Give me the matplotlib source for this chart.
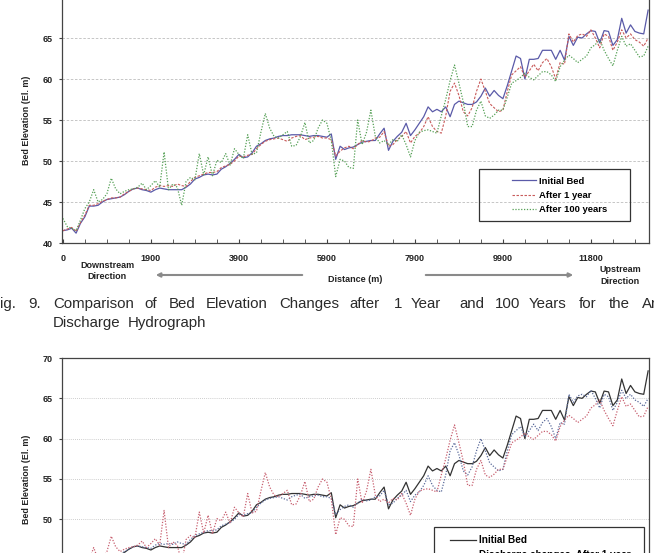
import matplotlib
matplotlib.use('Agg')
import matplotlib.pyplot as plt
from matplotlib.patches import Rectangle, FancyArrowPatch
import numpy as np

plt.rcParams['font.family'] = ['Liberation Sans', 'DejaVu Sans']

# data (bed elevation, El. m), one value per survey section
initial_bed = [41.5, 41.6, 41.8, 41.2, 42.4, 43.2, 44.5, 44.5, 44.6, 45.0,
               45.3, 45.4, 45.5, 45.6, 45.9, 46.3, 46.6, 46.7, 46.5, 46.4,
               46.2, 46.5, 46.7, 46.6, 46.5, 46.5, 46.5, 46.5, 46.8, 47.2,
               47.8, 48.0, 48.3, 48.4, 48.3, 48.4, 49.0, 49.3, 49.7, 50.2,
               50.8, 50.4, 50.5, 51.0, 51.8, 52.1, 52.5, 52.7, 52.8, 53.0,
               53.1, 53.1, 53.2, 53.2, 53.2, 53.1, 53.0, 53.1, 53.1, 53.0,
               52.9, 53.3, 50.2, 51.8, 51.4, 51.6, 51.7, 52.0, 52.3, 52.4,
               52.5, 52.5, 53.3, 54.0, 51.3, 52.4, 53.0, 53.5, 54.6, 53.1,
               53.8, 54.6, 55.4, 56.6, 56.0, 56.3, 56.0, 56.6, 55.4, 56.9,
               57.3, 57.1, 56.9, 56.9, 57.2, 57.9, 58.9, 57.9, 58.6, 58.0,
               57.6, 59.2, 61.0, 62.8, 62.5, 60.0, 62.4, 62.4, 62.5, 63.5,
               63.5, 63.5, 62.4, 63.5, 62.3, 65.2, 64.1, 65.1, 65.0, 65.5,
               65.9, 65.8, 64.4, 65.9, 65.8, 64.1, 64.8, 67.4, 65.6, 66.6,
               65.8, 65.6, 65.5, 68.4]

after_1_year = [41.5, 41.7, 41.9, 41.4, 42.5, 43.4, 44.6, 44.6, 44.8, 45.1,
                45.3, 45.5, 45.5, 45.6, 46.0, 46.3, 46.6, 46.7, 46.6, 46.5,
                46.4, 46.8, 47.0, 46.9, 47.0, 46.9, 47.2, 47.0, 46.9, 47.5,
                48.0, 48.2, 48.4, 48.6, 48.6, 48.7, 49.2, 49.4, 49.6, 50.0,
                50.6, 50.5, 50.7, 50.8, 51.5, 52.0, 52.4, 52.6, 52.7, 52.8,
                52.6, 52.4, 52.8, 53.0, 53.1, 52.6, 52.8, 52.9, 53.0, 52.8,
                52.8, 52.6, 50.6, 51.2, 51.6, 51.8, 51.5, 52.0, 52.5, 52.3,
                52.4, 52.8, 52.9, 53.6, 51.8, 52.0, 52.6, 53.0, 53.6, 52.2,
                53.0, 53.4, 54.2, 55.4, 54.2, 53.6, 53.4, 55.5, 58.5, 59.5,
                58.0, 56.0, 55.5, 56.5, 58.5, 60.0, 58.5, 57.0, 56.5, 56.0,
                56.2, 58.5, 60.5, 61.0, 61.5, 60.2, 61.0, 61.8, 61.0, 62.0,
                62.5, 61.5, 60.0, 62.0, 61.8, 65.5, 64.5, 65.3, 65.5, 65.2,
                66.0, 65.0, 63.8, 65.5, 65.2, 63.5, 64.5, 66.0, 65.0, 65.5,
                64.8, 64.5, 64.0, 65.0]

after_100_years = [43.0, 42.0, 41.8, 41.5, 42.8, 44.2, 45.0, 46.5, 45.0, 45.3,
                   46.0, 47.9, 46.6, 46.0, 46.3, 46.5, 46.6, 46.8, 47.3, 46.5,
                   47.0, 47.6, 46.8, 51.1, 46.5, 47.2, 46.8, 44.6, 47.5, 48.0,
                   47.7, 50.9, 48.3, 50.5, 48.2, 50.1, 49.8, 50.9, 49.5, 51.5,
                   50.8, 50.3, 53.2, 50.8, 51.0, 53.5, 55.8, 54.0, 53.0, 52.8,
                   53.2, 53.6, 51.8, 51.9, 53.0, 54.7, 52.2, 52.5, 54.0, 55.0,
                   54.6, 52.5, 48.1, 50.2, 50.0, 49.2, 49.1, 55.0, 52.0, 53.5,
                   56.2, 53.0, 52.2, 52.5, 52.0, 52.6, 52.4, 53.2, 52.0, 50.5,
                   52.5, 53.5, 53.7, 53.8, 53.6, 53.4, 55.5, 57.5, 59.8, 61.7,
                   59.5, 57.2, 54.2, 54.2, 56.2, 57.3, 55.5, 55.2, 55.6, 56.2,
                   56.2, 57.8, 59.5, 59.8, 60.2, 60.7, 60.2, 59.9, 60.4, 60.9,
                   60.9, 60.5, 59.7, 61.5, 62.3, 62.9, 62.5, 62.0, 62.4, 62.8,
                   63.8, 64.2, 64.8, 63.5, 62.5, 61.6, 63.5, 65.2, 64.0, 64.3,
                   63.5, 62.7, 62.8, 64.0]

tick_sections = [0, 20, 40, 60, 80, 100, 120]
tick_labels = ['0', '1900', '3900', '5900', '7900', '9900', '11800']

W, H = 654, 553
def fx(px):
    return px / W
def fy(py):
    return 1 - py / H

fig = plt.figure(figsize=(W / 100, H / 100), dpi=100)
x = np.arange(len(initial_bed))

tick_font = dict(fontsize=6.5, fontweight='bold', color='#222222')
axis_col = '#444444'


def style_axes(ax, grid_ls):
    ax.set_xlim(-0.2, len(initial_bed) - 0.8)
    ax.set_ylim(40, 70)
    ax.set_yticks(range(40, 71, 5))
    ax.set_yticklabels([str(v) for v in range(40, 71, 5)], **tick_font)
    ax.set_xticks(tick_sections)
    ax.set_xticklabels(tick_labels, **tick_font)
    ax.set_xticks(range(0, len(initial_bed), 5), minor=True)
    ax.tick_params(axis='x', which='both', direction='in', length=3,
                   color=axis_col, pad=8)
    ax.tick_params(axis='y', direction='out', length=2.5, color=axis_col,
                   pad=4)
    for s in ax.spines.values():
        s.set_color(axis_col)
        s.set_linewidth(0.9)
    ax.grid(axis='y', color='#bdbdbd', linestyle=grid_ls, linewidth=0.6)
    ax.set_axisbelow(True)
    ax.set_ylabel('Bed Elevation (El. m)', fontsize=6.4, fontweight='bold',
                  color='#222222')
    ax.yaxis.set_label_coords(-0.053, 0.5)


# ---- upper chart (Fig. 9) ----
ax1 = fig.add_axes([fx(62), fy(243), (649 - 62) / W, (243 + 3) / H])
ax1.plot(x, initial_bed, color='#5a5aa8', lw=0.9, label='Initial Bed')
ax1.plot(x, after_1_year, color='#c85a5a', lw=0.8, ls=(0, (2.2, 1.4)),
         label='After 1 year')
ax1.plot(x, after_100_years, color='#55a055', lw=0.9, ls=(0, (1, 1.3)),
         label='After 100 years')
style_axes(ax1, (0, (3, 2)))

ax1.legend(loc='upper left', bbox_to_anchor=(fx(505), fy(170)),
           bbox_transform=fig.transFigure, frameon=False,
           prop=dict(size=6.8, weight='bold'), handlelength=2.6,
           handletextpad=0.3, labelspacing=0.55, borderpad=0.2)
fig.patches.append(Rectangle((fx(479), fy(221)), (630 - 479) / W, 52 / H,
                             transform=fig.transFigure, fill=False,
                             edgecolor='#333333', lw=0.9))

fig.text(fx(107), fy(271), 'Downstream\nDirection', ha='center', va='center',
         fontsize=6.5, fontweight='bold', color='#222222', linespacing=1.35)
fig.text(fx(620), fy(275.5), 'Upstream\nDirection', ha='center', va='center',
         fontsize=6.5, fontweight='bold', color='#222222', linespacing=1.35)
fig.text(fx(355), fy(280), 'Distance (m)', ha='center', va='center',
         fontsize=6.5, fontweight='bold', color='#222222')
for x0, x1 in [(305, 153), (423, 576)]:
    fig.add_artist(FancyArrowPatch(
        (fx(x0), fy(275)), (fx(x1), fy(275)), transform=fig.transFigure,
        arrowstyle='-|>', mutation_scale=6, color='#8a8a8a', lw=1.5))

# caption (justified words)
cap_words = ['ig.', '9.', 'Comparison', 'of', 'Bed', 'Elevation', 'Changes',
             'after', '1', 'Year', 'and', '100', 'Years', 'for', 'the', 'An']
cap_x = [0, 28, 53, 144, 169, 206, 279, 349, 394, 411, 459, 495, 529, 579,
         609, 642]
for w, px in zip(cap_words, cap_x):
    fig.text(fx(px), fy(304), w, ha='left', va='center', fontsize=10.8,
             color='#2a2a2a')
fig.text(fx(53), fy(323), 'Discharge', ha='left', va='center', fontsize=10.8,
         color='#2a2a2a')
fig.text(fx(128), fy(323), 'Hydrograph', ha='left', va='center',
         fontsize=10.8, color='#2a2a2a')

# ---- lower chart (Fig. 10, cut off by the page) ----
ax2 = fig.add_axes([fx(62), fy(600), (649 - 62) / W, (600 - 358) / H])
ax2.plot(x, initial_bed, color='#333333', lw=0.9, label='Initial Bed')
ax2.plot(x, after_1_year, color='#5a6a9a', lw=0.9, ls=(0, (1, 1.3)),
         label='Discharge changes, After 1 year')
ax2.plot(x, after_100_years, color='#c86070', lw=0.9, ls=(0, (1, 1.3)),
         label='Discharge changes, After 100 years')
style_axes(ax2, (0, (1, 1.5)))

ax2.legend(loc='upper left', bbox_to_anchor=(fx(443), fy(528)),
           bbox_transform=fig.transFigure, frameon=False,
           prop=dict(size=7.2, weight='bold'), handlelength=2.6,
           handletextpad=0.3, labelspacing=0.5, borderpad=0.2)
fig.patches.append(Rectangle((fx(434), fy(600)), (644 - 434) / W, 73 / H,
                             transform=fig.transFigure, fill=False,
                             edgecolor='#333333', lw=0.9))

fig.savefig('out.png', dpi=100, facecolor='white')
